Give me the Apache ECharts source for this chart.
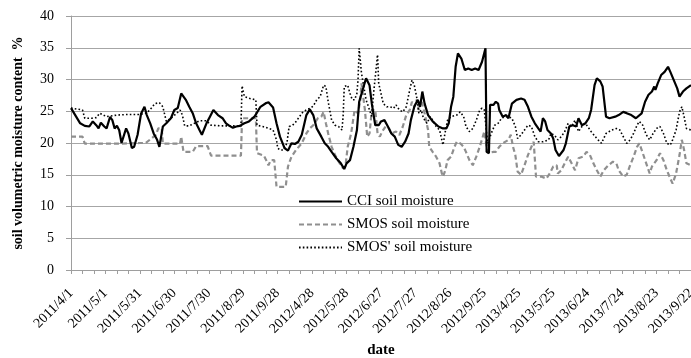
<!DOCTYPE html>
<html><head><meta charset="utf-8">
<script src="https://cdn.jsdelivr.net/npm/echarts@6/dist/echarts.min.js"></script>
<style>html,body{margin:0;padding:0;background:#fff}#c{width:691px;height:358px}</style>
</head><body><div id="c"></div>
<script>
// date segments of the category axis (observation seasons)
const segmentStarts = ['2011/4/1', '2012/4/19', '2013/3/29'];
const segmentEnds = ['2011/10/18', '2012/9/27', '2013/9/22'];
const seriesNames = ['CCI soil moisture', 'SMOS soil moisture', "SMOS' soil moisture"];
const yTicks = [0, 5, 10, 15, 20, 25, 30, 35, 40];

// [category index, value]
const cci = [[0,25.5],[8,23.1],[12,22.7],[16,22.6],[19,23.4],[22,22.8],[24,22.3],[26,23.2],[29,22.6],[31,22.3],[34,24.1],[36,23.6],[38,22.3],[40,22.7],[42,22.0],[44,20.0],[48,22.3],[50,21.5],[53,19.2],[55,19.4],[58,21.3],[61,24.6],[64,25.7],[66,24.4],[69,23.1],[72,21.5],[75,20.5],[77,19.4],[80,22.6],[83,23.1],[87,23.9],[90,25.2],[93,25.5],[96,27.8],[98,27.3],[100,26.8],[103,25.7],[106,24.7],[109,23.1],[112,22.0],[114,21.3],[118,23.1],[121,24.15],[124,25.2],[128,24.4],[132,23.9],[135,23.1],[138,22.7],[141,22.4],[144,22.6],[147,22.7],[151,23.1],[155,23.4],[160,24.2],[165,25.7],[170,26.3],[172,26.4],[176,25.6],[179,23.1],[182,21.0],[186,19.2],[189,18.8],[192,19.95],[195,19.85],[198,20.2],[201,21.3],[205,24.4],[208,25.3],[211,24.4],[214,22.3],[218,21.0],[221,19.95],[224,19.4],[227,18.6],[231,17.6],[235,16.8],[238,15.9],[240,16.8],[243,17.3],[246,19.4],[249,22.0],[251,26.5],[254,28.35],[257,30.2],[260,29.1],[262,26.2],[265,22.8],[268,22.8],[270,23.4],[273,23.6],[276,22.6],[279,21.5],[282,21.0],[285,19.7],[288,19.4],[291,20.2],[294,21.5],[296,23.6],[299,25.7],[302,26.8],[304,25.7],[306,28.1],[308,26.2],[311,24.4],[315,23.4],[320,22.6],[324,22.3],[327,22.3],[329,23.1],[331,25.7],[333,27.3],[335,32.0],[337,34.1],[340,33.3],[343,31.5],[346,31.75],[349,31.5],[352,31.75],[355,31.5],[356,31.4],[358,32.8],[361,34.9],[362,18.6],[364,18.4],[365,26.0],[368,26.0],[370,26.5],[372,26.2],[373,25.2],[376,24.15],[379,24.4],[381,23.9],[384,26.2],[388,26.8],[392,27.0],[395,26.8],[398,25.7],[401,24.15],[404,23.1],[407,22.3],[409,21.8],[411,23.9],[413,23.4],[415,22.05],[418,21.5],[420,20.7],[422,18.9],[425,17.95],[429,18.9],[431,19.95],[434,22.6],[437,22.8],[440,22.6],[442,23.9],[445,22.8],[448,23.1],[451,23.9],[453,25.2],[456,29.1],[458,30.2],[461,29.7],[463,28.9],[466,24.15],[469,23.9],[474,24.15],[477,24.4],[481,24.9],[484,24.7],[488,24.4],[492,23.9],[497,24.67],[500,26.5],[503,27.6],[506,28.1],[508,28.9],[509,28.35],[511,29.4],[514,30.7],[517,31.2],[520,32.0],[522,31.2],[525,29.9],[528,28.6],[530,27.3],[533,28.1],[536,28.6],[540,29.1]];

const smos = [[0,21.0],[10,21.0],[12,19.9],[42,19.9],[60,20.0],[65,20.0],[70,20.7],[74,21.3],[76,22.3],[79,22.3],[80,19.9],[95,19.9],[96,21.0],[97,21.0],[98,18.6],[106,18.6],[109,19.5],[119,19.5],[122,18.0],[148,18.0],[149,23.9],[161,23.9],[162,18.4],[168,18.0],[170,17.3],[172,16.5],[174,17.3],[177,17.3],[179,13.1],[187,13.1],[189,16.3],[192,17.85],[196,18.9],[201,19.95],[205,21.5],[208,22.3],[211,22.8],[215,23.9],[218,24.15],[220,24.9],[222,23.1],[224,21.5],[227,19.4],[230,18.1],[234,16.8],[237,16.0],[239,16.3],[241,19.4],[244,21.5],[247,25.2],[250,24.67],[252,26.8],[253,29.4],[256,25.2],[258,21.0],[260,21.5],[262,25.2],[265,25.2],[267,21.5],[269,21.0],[271,21.8],[274,22.6],[277,22.3],[279,21.5],[283,21.8],[286,21.26],[289,22.6],[292,24.4],[295,25.2],[297,26.5],[299,25.7],[301,26.8],[303,25.2],[305,26.8],[308,24.67],[311,22.05],[312,19.4],[315,18.6],[318,17.85],[321,16.8],[323,15.2],[324,14.7],[326,15.7],[328,17.3],[331,17.85],[334,19.4],[336,20.2],[339,19.95],[342,19.4],[344,18.6],[347,17.3],[350,16.5],[353,17.85],[356,19.4],[360,21.8],[362,19.4],[363,18.4],[368,18.6],[370,18.6],[373,19.4],[376,19.95],[381,20.5],[383,21.3],[385,19.4],[387,18.1],[389,15.5],[392,15.0],[395,16.5],[398,18.1],[401,19.4],[403,20.2],[405,14.7],[410,14.7],[414,14.4],[417,15.2],[420,16.3],[423,16.5],[424,15.2],[427,15.7],[430,16.8],[433,17.85],[436,16.8],[439,15.7],[442,17.6],[446,17.85],[449,18.6],[452,18.1],[455,16.8],[458,15.7],[461,14.7],[464,15.7],[468,16.5],[472,17.05],[475,16.8],[477,15.7],[481,14.7],[484,15.0],[487,16.5],[490,17.85],[493,19.4],[495,19.95],[498,18.4],[501,16.8],[504,15.2],[506,16.3],[510,17.3],[513,18.4],[516,17.3],[519,15.7],[522,14.4],[524,13.6],[527,15.2],[530,18.1],[532,20.5],[534,18.9],[536,16.8],[540,16.5]];

const smosPrime = [[0,25.5],[10,25.2],[12,23.9],[18,23.9],[22,24.0],[25,24.7],[31,24.15],[40,24.4],[50,24.5],[60,24.5],[66,24.7],[70,25.5],[73,26.2],[77,26.35],[80,25.7],[83,23.4],[87,23.9],[92,24.67],[95,25.2],[97,24.4],[99,22.7],[103,22.7],[112,23.5],[118,23.5],[122,22.8],[132,22.7],[144,22.7],[148,22.6],[149,29.0],[151,27.3],[156,27.0],[161,26.8],[162,22.8],[167,22.6],[172,22.3],[176,22.05],[179,20.5],[180,19.2],[182,18.9],[185,18.9],[188,19.95],[190,22.6],[193,22.8],[196,23.36],[199,24.15],[202,24.9],[205,25.2],[208,25.46],[211,25.8],[214,26.8],[217,27.3],[220,29.1],[222,28.9],[224,26.5],[227,23.6],[230,22.8],[233,22.6],[236,22.05],[237,24.15],[238,28.9],[241,29.1],[243,27.8],[245,26.8],[247,26.8],[249,27.8],[250,30.0],[251,34.9],[252,35.2],[253,31.0],[255,28.9],[257,26.8],[260,25.2],[262,24.15],[263,26.8],[265,30.4],[267,33.9],[268,29.4],[270,27.8],[272,26.2],[275,25.7],[278,25.7],[281,25.46],[283,26.0],[286,25.2],[289,24.9],[292,25.7],[295,28.35],[297,29.9],[299,29.1],[301,27.3],[303,24.67],[305,25.2],[307,23.9],[310,23.1],[313,24.15],[315,23.6],[318,22.6],[321,22.05],[324,19.7],[326,21.8],[328,23.6],[331,24.15],[336,24.4],[339,24.9],[342,24.15],[344,22.6],[347,21.8],[350,22.3],[353,23.6],[356,25.2],[358,25.5],[360,25.2],[362,21.5],[363,19.95],[366,21.5],[369,22.8],[372,23.1],[375,23.9],[378,24.15],[381,24.15],[384,23.9],[387,22.6],[389,20.7],[392,21.3],[395,22.05],[398,22.8],[401,22.6],[404,21.0],[407,20.2],[411,20.2],[416,20.5],[418,21.5],[421,21.26],[424,20.5],[427,21.0],[430,21.8],[433,23.1],[436,22.6],[439,23.6],[442,21.8],[445,22.6],[448,23.1],[450,22.6],[453,21.8],[458,20.7],[462,19.95],[466,21.5],[471,22.05],[475,22.3],[478,22.05],[481,21.0],[484,19.95],[487,20.5],[490,21.5],[493,22.8],[495,23.4],[498,22.8],[501,21.3],[504,20.5],[507,21.5],[510,22.3],[513,22.6],[516,21.5],[519,19.95],[522,19.7],[524,20.5],[527,22.05],[530,24.9],[532,25.7],[534,24.15],[536,22.3],[540,22.05]];

function buildDates() {
  const out = [];
  for (let s = 0; s < segmentStarts.length; s++) {
    const a = segmentStarts[s].split('/').map(Number);
    const b = segmentEnds[s].split('/').map(Number);
    let t = Date.UTC(a[0], a[1] - 1, a[2]);
    const e = Date.UTC(b[0], b[1] - 1, b[2]);
    while (t <= e) {
      const d = new Date(t);
      out.push(d.getUTCFullYear() + '/' + (d.getUTCMonth() + 1) + '/' + d.getUTCDate());
      t += 86400000;
    }
  }
  return out;
}
const dates = buildDates();
const FONT = '"Liberation Serif", "Times New Roman", serif';

const chart = echarts.init(document.getElementById('c'), null, {renderer: 'canvas'});
chart.setOption({
  animation: false,
  backgroundColor: '#fff',
  grid: {left: 71, right: 0, top: 16, bottom: 88, containLabel: false, outerBoundsMode: 'none'},
  legend: {
    orient: 'vertical', left: 293, top: 189, itemWidth: 43, itemHeight: 10, itemGap: 8,
    textStyle: {fontFamily: FONT, fontSize: 15, color: '#000'},
    itemStyle: {opacity: 0, borderWidth: 0},
    data: seriesNames
  },
  xAxis: {
    type: 'category', data: dates, boundaryGap: false,
    name: 'date', nameLocation: 'middle', nameGap: 71,
    nameTextStyle: {fontFamily: FONT, fontSize: 15, fontWeight: 'bold', color: '#000'},
    axisLine: {lineStyle: {color: '#9e9e9e', width: 1}},
    axisTick: {show: true, interval: 9, length: 4, lineStyle: {color: '#9e9e9e'}},
    axisLabel: {interval: 29, rotate: 45, margin: 21, fontFamily: FONT, fontSize: 14, color: '#000'},
    splitLine: {show: false}
  },
  yAxis: {
    type: 'value', min: 0, max: 40, interval: 5,
    name: 'soil volumetric moisture content  %', nameLocation: 'middle', nameGap: 46,
    nameTextStyle: {fontFamily: FONT, fontSize: 14, fontWeight: 'bold', color: '#000'},
    axisLine: {show: true, lineStyle: {color: '#9e9e9e', width: 1}},
    axisTick: {show: true, length: 5, lineStyle: {color: '#9e9e9e'}},
    axisLabel: {margin: 17, fontFamily: FONT, fontSize: 14, color: '#000'},
    splitLine: {lineStyle: {color: '#a6a6a6', width: 1}}
  },
  series: [
    {name: seriesNames[0], type: 'line', data: cci, symbol: 'none', z: 5,
     lineStyle: {color: '#000', width: 2.2}, itemStyle: {color: '#000'}},
    {name: seriesNames[1], type: 'line', data: smos, symbol: 'none', z: 3,
     lineStyle: {color: '#8f8f8f', width: 2.2, type: [5, 3]}, itemStyle: {color: '#8f8f8f'}},
    {name: seriesNames[2], type: 'line', data: smosPrime, symbol: 'none', z: 4,
     lineStyle: {color: '#000', width: 1.6, type: [1.6, 2.2]}, itemStyle: {color: '#000'}}
  ]
});
</script></body></html>
